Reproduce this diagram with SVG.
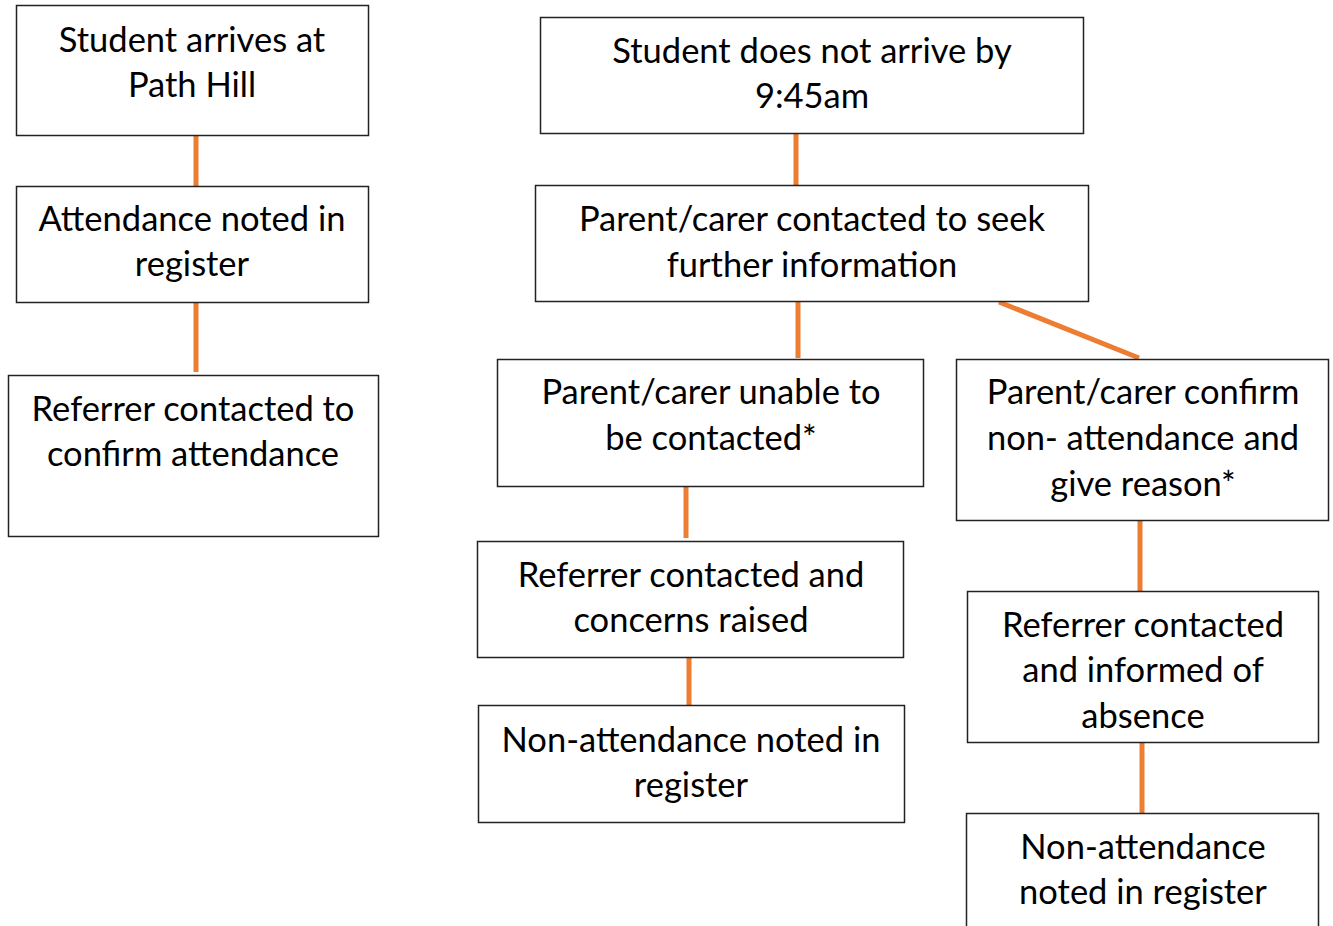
<svg xmlns="http://www.w3.org/2000/svg" width="1333" height="926" viewBox="0 0 1333 926">
<style>
.box{fill:#fff;stroke:#222;stroke-width:1.5}
.t{font-family:Lato,"Open Sans",sans-serif;font-size:34.5px;fill:#000;text-anchor:middle}
.c{stroke:#ED7D31;stroke-width:5;fill:none}
</style>
<rect width="1333" height="926" fill="#fff"/>
<g id="connectors">
<line class="c" x1="196" y1="136" x2="196" y2="186"/>
<line class="c" x1="196" y1="303" x2="196" y2="372"/>
<line class="c" x1="796" y1="134" x2="796" y2="185"/>
<line class="c" x1="798" y1="302" x2="798" y2="358"/>
<line class="c" x1="999" y1="302" x2="1139" y2="358"/>
<line class="c" x1="686" y1="487" x2="686" y2="538"/>
<line class="c" x1="689" y1="658" x2="689" y2="707"/>
<line class="c" x1="1140" y1="521" x2="1140" y2="591"/>
<line class="c" x1="1142" y1="743" x2="1142" y2="813"/>
</g>
<g id="n1"><rect class="box" x="16.5" y="5.5" width="352" height="130"/><text class="t" x="192" y="52">Student arrives at</text><text class="t" x="192" y="97">Path Hill</text></g>
<g id="n2"><rect class="box" x="16.5" y="186.5" width="352" height="116"/><text class="t" x="192" y="231">Attendance noted in</text><text class="t" x="192" y="276">register</text></g>
<g id="n3"><rect class="box" x="8.5" y="375.5" width="370" height="161"/><text class="t" x="193" y="421">Referrer contacted to</text><text class="t" x="193" y="466">confirm attendance</text></g>
<g id="n4"><rect class="box" x="540.5" y="17.5" width="543" height="116"/><text class="t" x="812" y="63">Student does not arrive by</text><text class="t" x="812" y="108">9:45am</text></g>
<g id="n5"><rect class="box" x="535.5" y="185.5" width="553" height="116"/><text class="t" x="812" y="231">Parent/carer contacted to seek</text><text class="t" x="812" y="277">further information</text></g>
<g id="n6"><rect class="box" x="497.5" y="359.5" width="426" height="127"/><text class="t" x="711" y="404">Parent/carer unable to</text><text class="t" x="711" y="450">be contacted*</text></g>
<g id="n7"><rect class="box" x="956.5" y="359.5" width="372" height="161"/><text class="t" x="1143" y="404">Parent/carer confirm</text><text class="t" x="1143" y="450">non- attendance and</text><text class="t" x="1143" y="496">give reason*</text></g>
<g id="n8"><rect class="box" x="477.5" y="541.5" width="426" height="116"/><text class="t" x="691" y="587">Referrer contacted and</text><text class="t" x="691" y="632">concerns raised</text></g>
<g id="n9"><rect class="box" x="478.5" y="705.5" width="426" height="117"/><text class="t" x="691" y="752">Non-attendance noted in</text><text class="t" x="691" y="797">register</text></g>
<g id="n10"><rect class="box" x="967.5" y="591.5" width="351" height="151"/><text class="t" x="1143" y="637">Referrer contacted</text><text class="t" x="1143" y="682">and informed of</text><text class="t" x="1143" y="728">absence</text></g>
<g id="n11"><rect class="box" x="966.5" y="813.5" width="352" height="130"/><text class="t" x="1143" y="859">Non-attendance</text><text class="t" x="1143" y="904">noted in register</text></g>
</svg>
